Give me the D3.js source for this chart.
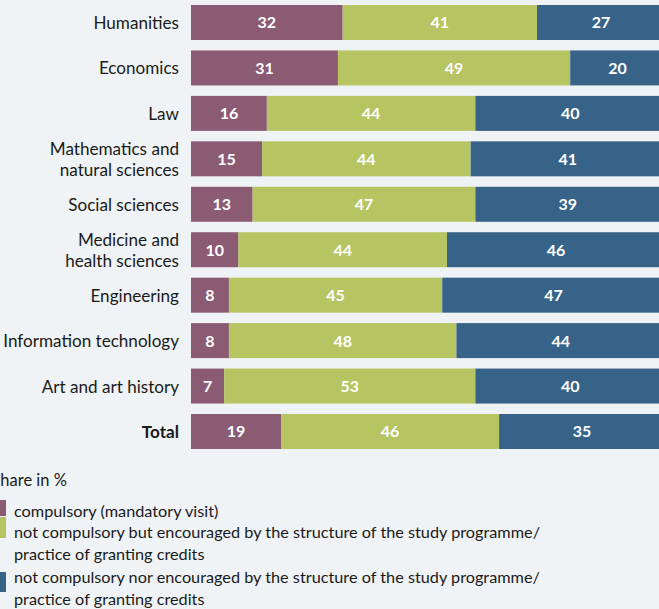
<!DOCTYPE html>
<html>
<head>
<meta charset="utf-8">
<script src="https://cdn.jsdelivr.net/npm/d3@7"></script>
<style>
  html, body { margin: 0; padding: 0; background: #eff3f5; overflow: hidden; }
  svg { display: block; }
  text { font-family: Lato, "Noto Sans", sans-serif; }
</style>
</head>
<body>
<svg id="chart" width="659" height="609"></svg>
<script>
const categories = [
  ["Humanities"],
  ["Economics"],
  ["Law"],
  ["Mathematics and", "natural sciences"],
  ["Social sciences"],
  ["Medicine and", "health sciences"],
  ["Engineering"],
  ["Information technology"],
  ["Art and art history"],
  ["Total"]
];
const compulsory   = [32, 31, 16, 15, 13, 10, 8, 8, 7, 19];
const encouraged   = [41, 49, 44, 44, 47, 44, 45, 48, 53, 46];
const notEncouraged= [27, 20, 40, 41, 39, 46, 47, 44, 40, 35];
const seriesNames = [
  ["compulsory (mandatory visit)"],
  ["not compulsory but encouraged by the structure of the study programme/", "practice of granting credits"],
  ["not compulsory nor encouraged by the structure of the study programme/", "practice of granting credits"]
];
const colors = ["#8b5b74", "#b6c462", "#376389"];
const axisTitle = "Share in %";

const svg = d3.select("#chart");
const keys = categories.map(c => c.join(" "));
const data = keys.map((k, i) => ({ key: k, lines: categories[i], v: [compulsory[i], encouraged[i], notEncouraged[i]] }));

const x = d3.scaleLinear().domain([0, 100]).range([191, 665]);
const y = d3.scaleBand().domain(keys).range([5, 449]).paddingInner(0.23).paddingOuter(0);

const rows = svg.append("g").selectAll("g").data(data).join("g")
  .attr("transform", d => `translate(0,${y(d.key)})`);

rows.each(function(d) {
  const g = d3.select(this);
  let acc = 0;
  d.v.forEach((val, j) => {
    const x0 = x(acc), x1 = x(acc + val);
    g.append("rect").attr("x", x0).attr("y", 0).attr("width", x1 - x0).attr("height", y.bandwidth()).attr("fill", colors[j]);
    g.append("text").attr("x", (x0 + x1) / 2).attr("y", y.bandwidth() / 2 + 6)
      .attr("text-anchor", "middle").attr("fill", "#ffffff").attr("font-weight", "bold").attr("font-size", 16)
      .text(val);
    acc += val;
  });
  const bold = d.key === "Total";
  const n = d.lines.length;
  d.lines.forEach((ln, k) => {
    g.append("text").attr("x", 179).attr("y", y.bandwidth() / 2 + 6.5 + (k - (n - 1) / 2) * 21)
      .attr("text-anchor", "end").attr("fill", "#1a1a1a").attr("font-size", 17.1)
      .attr("font-weight", bold ? "bold" : "normal").text(ln);
  });
});

// legend
svg.append("text").attr("x", -8.5).attr("y", 486).attr("font-size", 16.5).attr("fill", "#1a1a1a").text(axisTitle);
const legTop = [500, 517, 572];
const legH = [16, 21, 20];
const legBase = [517, 538, 583];
seriesNames.forEach((lines, j) => {
  svg.append("rect").attr("x", -10).attr("y", legTop[j]).attr("width", 16).attr("height", legH[j]).attr("fill", colors[j]);
  lines.forEach((ln, k) => {
    svg.append("text").attr("x", 14).attr("y", legBase[j] + k * 21.5).attr("font-size", 16.25).attr("fill", "#1a1a1a").text(ln);
  });
});
</script>
</body>
</html>
